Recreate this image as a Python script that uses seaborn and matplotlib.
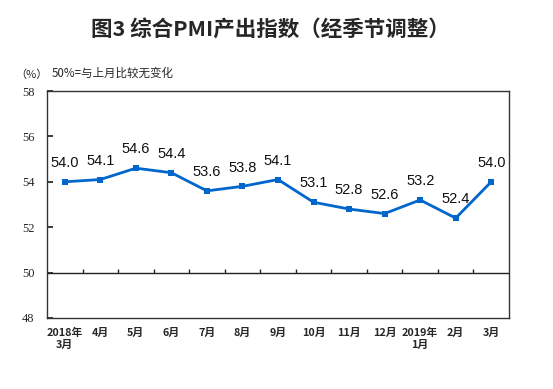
import matplotlib
matplotlib.use("Agg")
import matplotlib.pyplot as plt
import seaborn as sns
import numpy as np
import pandas as pd

months = ["2018年\n3月", "4月", "5月", "6月", "7月", "8月", "9月", "10月",
          "11月", "12月", "2019年\n1月", "2月", "3月"]
values = [54.0, 54.1, 54.6, 54.4, 53.6, 53.8, 54.1, 53.1, 52.8, 52.6, 53.2, 52.4, 54.0]
yticks = [48, 50, 52, 54, 56, 58]

sns.set_theme(style="white")
plt.rcParams['font.family'] = ['Noto Sans CJK SC', 'DejaVu Sans']

df = pd.DataFrame({"idx": np.arange(len(months)), "v": values})

fig = plt.figure(figsize=(5.53, 3.89), dpi=100)
ax = fig.add_axes([47/553, 1-318/389, 462/553, 227/389])

sns.lineplot(data=df, x="idx", y="v", ax=ax, color="#0066CC", linewidth=2,
             marker="s", markersize=5, markeredgewidth=0)

ax.set_xlim(-0.5, len(months)-0.5)
ax.set_ylim(48, 58)
ax.axhline(50, color="#222222", linewidth=1)
bounds = np.arange(len(months)-1) + 0.5
ax.vlines(bounds, 50, 50.15, color="#222222", linewidth=1)

for i, v in enumerate(values):
    ax.annotate(f"{v:.1f}", (i, v), xytext=(0, 8.5), textcoords="offset points",
                ha="center", va="bottom", fontsize=10.5, family=["Liberation Sans", "DejaVu Sans"],
                color="#111111")

ax.set_xticks(np.arange(len(months)))
ax.set_xticklabels(months, fontsize=7.8, fontweight="bold", linespacing=1.3)
ax.tick_params(axis="x", length=0, pad=7)
ax.set_yticks(yticks)
ax.set_yticklabels([str(t) for t in yticks], fontsize=9, family=["Liberation Serif"])
ax.tick_params(axis="y", direction="in", length=4, left=True, pad=9, color="#222222")
ax.set_xlabel("")
ax.set_ylabel("")
for s in ax.spines.values():
    s.set_color("#333333")
    s.set_linewidth(1)

fig.text(270/553, 1-30/389, "图3 综合PMI产出指数（经季节调整）", ha="center", va="center",
         fontsize=15.5, fontweight="bold")
fig.text(31/553, 1-75/389, "（%）", ha="center", va="center", fontsize=8)
fig.text(52/553, 1-73/389, "50%=与上月比较无变化", ha="left", va="center", fontsize=8.3)

fig.savefig("out.png", dpi=100, facecolor="white")
